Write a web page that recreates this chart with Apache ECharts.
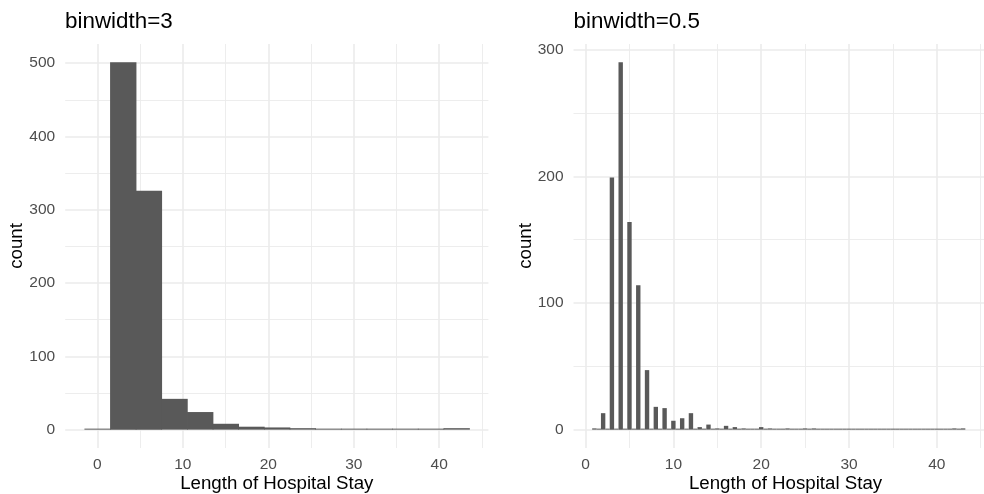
<!DOCTYPE html>
<html><head><meta charset="utf-8">
<script src="https://cdn.jsdelivr.net/npm/echarts@6/dist/echarts.min.js"></script>
<style>html,body{margin:0;padding:0;background:#fff;}#chart{width:984px;height:494px;}</style>
</head><body><div id="chart"></div>
<script>
// ---- Data ----
// Left panel: histogram with binwidth = 3 (bin centers and counts)
const leftBinCenters = [0, 3, 6, 9, 12, 15, 18, 21, 24, 27, 30, 33, 36, 39, 42];
const leftCounts     = [1, 501, 326, 42, 24, 8, 4, 3, 2, 1, 0, 0, 0, 0, 2];
const leftBinWidth = 3;

// Right panel: histogram with binwidth = 0.5 (integer stay lengths and counts)
const rightStayValues = [1, 2, 3, 4, 5, 6, 7, 8, 9, 10, 11, 12, 13, 14, 15, 16, 17, 18, 20, 21, 23, 25, 26, 42, 43];
const rightCounts     = [1, 13, 199, 290, 164, 114, 47, 18, 17, 7, 9, 13, 2, 4, 1, 3, 2, 1, 2, 1, 1, 1, 1, 1, 1];
const rightBinWidth = 0.5;
const rightFirstBin = 1, rightLastBin = 43;

// Ticks and texts
const xTickLabels = [0, 10, 20, 30, 40];
const xMinorTicks = [5, 15, 25, 35, 45];
const leftYTicks = [0, 100, 200, 300, 400, 500];
const leftYMinor = [50, 150, 250, 350, 450];
const rightYTicks = [0, 100, 200, 300];
const rightYMinor = [50, 150, 250];
const panelTitles = ['binwidth=3', 'binwidth=0.5'];
const xTitle = 'Length of Hospital Stay';
const yTitle = 'count';

// ---- Build tables ----
const leftData = leftBinCenters.map((c, i) => [c, leftCounts[i]]);
const rightData = [];
for (let c = rightFirstBin; c <= rightLastBin + 1e-9; c += rightBinWidth) {
  const idx = rightStayValues.indexOf(c);
  rightData.push([c, idx >= 0 ? rightCounts[idx] : 0]);
}

function expandX(centers, bw) {
  const lo = centers[0] - bw / 2, hi = centers[centers.length - 1] + bw / 2;
  const pad = (hi - lo) * 0.05;
  return [lo - pad, hi + pad];
}
function expandY(counts) {
  const mx = Math.max(...counts);
  return [-mx * 0.05, mx * 1.05];
}
const leftX = expandX(leftBinCenters, leftBinWidth);
const rightX = expandX([rightFirstBin, rightLastBin], rightBinWidth);
const leftY = expandY(leftCounts);
const rightY = expandY(rightCounts);

const FONT = '"Liberation Sans", Arial, Helvetica, sans-serif';
const GRID_COL = '#ebebeb';

function xAxes(gridIndex, ext) {
  return [
    { type: 'value', gridIndex, min: ext[0], max: ext[1],
      axisLine: { show: false }, axisTick: { show: false, customValues: xTickLabels },
      axisLabel: { customValues: xTickLabels, margin: 9, color: '#4d4d4d', fontSize: 15.5, fontFamily: FONT },
      splitLine: { show: true, lineStyle: { color: GRID_COL, width: 1.6 } } },
    { type: 'value', gridIndex, min: ext[0], max: ext[1],
      axisLine: { show: false }, axisTick: { show: false, customValues: xMinorTicks },
      axisLabel: { show: false, customValues: xMinorTicks },
      splitLine: { show: true, lineStyle: { color: GRID_COL, width: 0.9 } } }
  ];
}
function yAxes(gridIndex, ext, major, minor) {
  return [
    { type: 'value', gridIndex, min: ext[0], max: ext[1],
      axisLine: { show: false }, axisTick: { show: false, customValues: major },
      axisLabel: { customValues: major, margin: 10, color: '#4d4d4d', fontSize: 15.5, fontFamily: FONT },
      splitLine: { show: true, lineStyle: { color: GRID_COL, width: 1.6 } } },
    { type: 'value', gridIndex, min: ext[0], max: ext[1],
      axisLine: { show: false }, axisTick: { show: false, customValues: minor },
      axisLabel: { show: false, customValues: minor },
      splitLine: { show: true, lineStyle: { color: GRID_COL, width: 0.9 } } }
  ];
}

function histRender(bw, overlap) {
  return function (params, api) {
    const c = api.value(0), n = api.value(1);
    const p0 = api.coord([c - bw / 2, n]);
    const p1 = api.coord([c + bw / 2, 0]);
    const minH = 1;
    const h = Math.max(p1[1] - p0[1], minH);
    return { type: 'rect', shape: { x: p0[0], y: p1[1] - h, width: p1[0] - p0[0] + overlap, height: h },
             style: { fill: '#595959' } };
  };
}

const chart = echarts.init(document.getElementById('chart'), null, { renderer: 'canvas' });
chart.setOption({
  animation: false,
  backgroundColor: '#ffffff',
  grid: [
    { left: 65.2, top: 44, width: 423.2, height: 404, containLabel: false },
    { left: 573.5, top: 44, width: 424, height: 404, containLabel: false }
  ],
  xAxis: [...xAxes(0, leftX), ...xAxes(1, rightX)],
  yAxis: [...yAxes(0, leftY, leftYTicks, leftYMinor), ...yAxes(1, rightY, rightYTicks, rightYMinor)],
  series: [
    { type: 'custom', xAxisIndex: 0, yAxisIndex: 0, data: leftData, renderItem: histRender(leftBinWidth, 0.7), silent: true },
    { type: 'custom', xAxisIndex: 2, yAxisIndex: 2, data: rightData, renderItem: histRender(rightBinWidth, 0), silent: true }
  ],
  graphic: [
    { type: 'text', x: 65, y: 21.5, style: { text: panelTitles[0], fontSize: 22.4, fontFamily: FONT, fill: '#000', align: 'left', verticalAlign: 'middle' } },
    { type: 'text', x: 573.5, y: 21.5, style: { text: panelTitles[1], fontSize: 22.4, fontFamily: FONT, fill: '#000', align: 'left', verticalAlign: 'middle' } },
    { type: 'text', x: 276.8, y: 483.5, style: { text: xTitle, fontSize: 18.7, fontFamily: FONT, fill: '#000', align: 'center', verticalAlign: 'middle' } },
    { type: 'text', x: 785.5, y: 483.5, style: { text: xTitle, fontSize: 18.7, fontFamily: FONT, fill: '#000', align: 'center', verticalAlign: 'middle' } },
    { type: 'text', x: 16.5, y: 246, rotation: Math.PI / 2, style: { text: yTitle, fontSize: 18.7, fontFamily: FONT, fill: '#000', align: 'center', verticalAlign: 'middle' } },
    { type: 'text', x: 525.5, y: 246, rotation: Math.PI / 2, style: { text: yTitle, fontSize: 18.7, fontFamily: FONT, fill: '#000', align: 'center', verticalAlign: 'middle' } }
  ]
});
</script>
</body></html>
